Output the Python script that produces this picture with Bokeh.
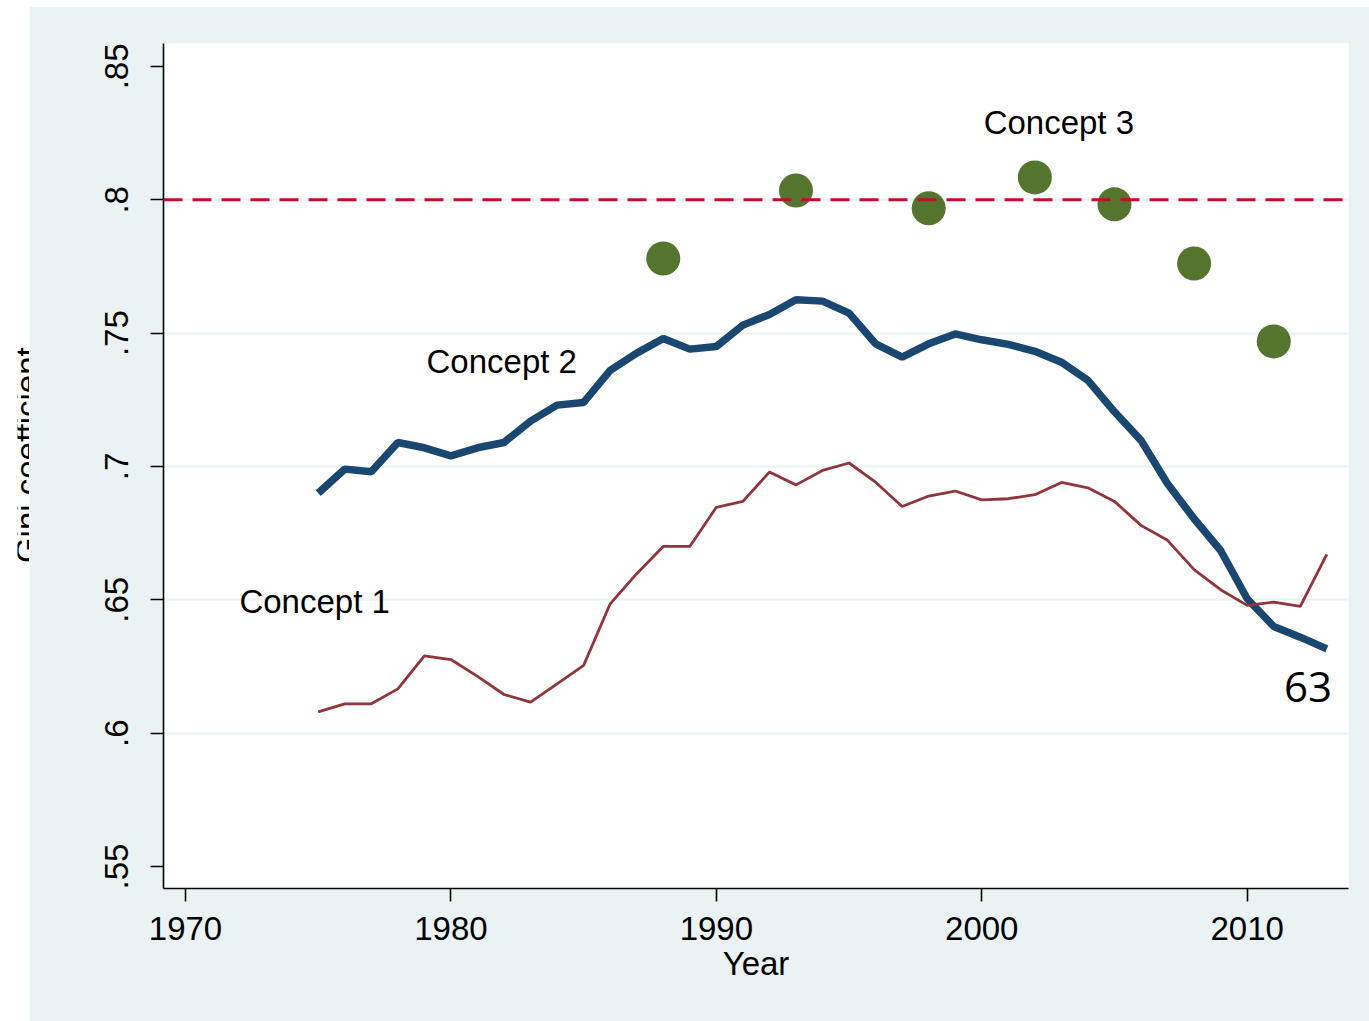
import math
from bokeh.plotting import figure
from bokeh.models import FixedTicker, Range1d, Span, Label, Spacer
from bokeh.layouts import row, column
from bokeh.embed import file_html
from bokeh.resources import INLINE
from bokeh.core.properties import value

# ---------------- data ----------------
years = list(range(1975, 2014))
concept2 = [0.690, 0.699, 0.698, 0.709, 0.707, 0.704, 0.707, 0.709, 0.717, 0.723,
            0.724, 0.736, 0.7425, 0.748, 0.744, 0.745, 0.753, 0.757, 0.7625, 0.762,
            0.7575, 0.746, 0.741, 0.746, 0.7497, 0.7475, 0.7458, 0.7432, 0.7391, 0.7323,
            0.7205, 0.7098, 0.6935, 0.6804, 0.6685, 0.6504, 0.640, 0.636, 0.6316]
concept1 = [0.608, 0.611, 0.611, 0.6166, 0.629, 0.6276, 0.6213, 0.6145, 0.6116, 0.6185,
            0.6254, 0.6485, 0.6598, 0.670, 0.670, 0.6847, 0.6869, 0.6979, 0.6931, 0.6985,
            0.7013, 0.6941, 0.685, 0.6889, 0.6908, 0.6875, 0.6879, 0.6894, 0.694, 0.692,
            0.6869, 0.6779, 0.6723, 0.6613, 0.6538, 0.6479, 0.6491, 0.6475, 0.667]
concept3_years = [1988, 1993, 1998, 2002, 2005, 2008, 2011]
concept3 = [0.778, 0.8035, 0.7968, 0.8084, 0.7983, 0.7761, 0.7469]
reference_level = 0.8

x_ticks = [1970, 1980, 1990, 2000, 2010]
y_ticks = [0.55, 0.6, 0.65, 0.7, 0.75, 0.8, 0.85]
y_tick_labels = [".55", ".6", ".65", ".7", ".75", ".8", ".85"]
y_grid_ticks = [0.6, 0.65, 0.7, 0.75, 0.8]

label_texts = ["Concept 1", "Concept 2", "Concept 3"]
label_x = [1972.03, 1979.08, 2000.07]
label_y = [0.6494, 0.7394, 0.8290]
end_text = "63"
end_x = 2011.39
end_y = 0.6174

x_title = "Year"
y_title = "Gini coefficient"

# ---------------- style ----------------
BG = "#EAF2F3"
NAVY = "#1A476F"
MAROON = "#90353B"
GREEN = "#55752F"
RED = "#C80A32"
FONT = "Liberation Sans"
FS = "33px"

H = 1015

p = figure(width=1340, height=H, output_backend="svg", toolbar_location=None,
           x_range=Range1d(1969.171, 2013.817), y_range=Range1d(0.54175, 0.8586),
           min_border_left=134, min_border_right=21, min_border_top=37,
           min_border_bottom=133)
p.background_fill_color = "white"
p.border_fill_color = BG
p.outline_line_color = None

# axes
for ax in (p.xaxis[0], p.yaxis[0]):
    ax.axis_line_color = "black"
    ax.axis_line_width = 1.6
    ax.major_tick_line_color = "black"
    ax.major_tick_line_width = 1.6
    ax.major_tick_out = 13
    ax.major_tick_in = 0
    ax.minor_tick_line_color = None
    ax.major_label_text_font = FONT
    ax.major_label_text_font_size = FS
    ax.major_label_text_color = "black"

p.xaxis.ticker = FixedTicker(ticks=x_ticks)
p.xaxis.major_label_standoff = 15
p.xaxis.axis_label = x_title
p.xaxis.axis_label_text_font = FONT
p.xaxis.axis_label_text_font_size = FS
p.xaxis.axis_label_text_font_style = "normal"
p.xaxis.axis_label_text_color = "black"
p.xaxis.axis_label_standoff = 2

p.yaxis.ticker = FixedTicker(ticks=y_ticks)
p.yaxis.major_label_overrides = {t: s for t, s in zip(y_ticks, y_tick_labels)}
p.yaxis.major_label_orientation = "vertical"
p.yaxis.major_label_standoff = 22

p.xgrid.grid_line_color = None
p.ygrid.ticker = FixedTicker(ticks=y_grid_ticks)
p.ygrid.grid_line_color = BG
p.ygrid.grid_line_width = 2

# reference line
p.add_layout(Span(location=reference_level, dimension="width", line_color=RED,
                  line_width=3, line_dash="19 10"))

# series
p.line(years, concept2, line_color=NAVY, line_width=7.5)
p.line(years, concept1, line_color=MAROON, line_width=2.8)
p.scatter(concept3_years, concept3, size=34, fill_color=GREEN, line_color=None)

# labels
p.text(x=label_x, y=label_y, text=label_texts, text_font=value(FONT),
       text_font_size=FS, text_color="black", text_align="left",
       text_baseline="alphabetic")
p.text(x=[end_x], y=[end_y], text=[end_text], text_font=value("Open Sans"),
       text_font_size="42px", text_color="black", text_align="left",
       text_baseline="alphabetic")

# clipped y-axis title strip (as in the cropped original)
t = figure(width=12, height=H, output_backend="svg", toolbar_location=None,
           x_range=Range1d(0, 12), y_range=Range1d(0, H),
           x_axis_location=None, y_axis_location=None, min_border=0)
t.background_fill_color = "white"
t.border_fill_color = "white"
t.outline_line_color = None
t.grid.visible = False
t.add_layout(Label(x=9.5, y=520.5, text=y_title, angle=math.pi / 2,
                   text_align="center", text_baseline="alphabetic",
                   text_font=FONT, text_font_size=FS, text_color="black"))

layout = column(Spacer(width=10, height=6),
                row(Spacer(width=17, height=H), t, p))

open("out.html", "w").write(file_html(layout, INLINE))
